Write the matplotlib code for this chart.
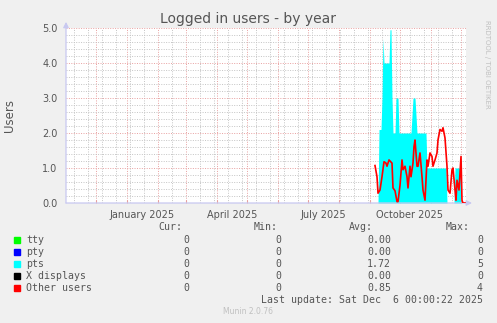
import matplotlib
matplotlib.use("Agg")
import matplotlib.pyplot as plt
import pandas as pd

# pts sessions (cyan area)
pts_dates = ["2025-09-09", "2025-09-10", "2025-09-12", "2025-09-13", "2025-09-14",
             "2025-09-15", "2025-09-20", "2025-09-21", "2025-09-22", "2025-09-23",
             "2025-09-24", "2025-09-26", "2025-09-27", "2025-09-29", "2025-09-30",
             "2025-10-12", "2025-10-14", "2025-10-16", "2025-10-18", "2025-10-27",
             "2025-10-28", "2025-11-16", "2025-11-17", "2025-11-24", "2025-11-25",
             "2025-11-30", "2025-12-01"]
pts_values = [0, 2.1, 2.1, 3.0, 4.7, 4.0, 4.0, 4.95, 4.95, 3.0,
              2.0, 2.0, 3.0, 3.0, 2.0, 2.0, 3.0, 3.0, 2.0, 2.0,
              1.0, 1.0, 0, 0, 1.0, 1.0, 0]

# other users (red line)
other_dates = ["2025-09-06", "2025-09-08", "2025-09-09", "2025-09-11", "2025-09-13",
               "2025-09-15", "2025-09-17", "2025-09-18", "2025-09-20", "2025-09-23",
               "2025-09-24", "2025-09-26", "2025-09-28", "2025-09-29", "2025-10-01",
               "2025-10-03", "2025-10-04", "2025-10-06", "2025-10-08", "2025-10-09",
               "2025-10-11", "2025-10-12", "2025-10-14", "2025-10-15", "2025-10-16",
               "2025-10-18", "2025-10-19", "2025-10-21", "2025-10-23", "2025-10-24",
               "2025-10-26", "2025-10-28", "2025-10-29", "2025-10-31", "2025-11-02",
               "2025-11-03", "2025-11-05", "2025-11-07", "2025-11-08", "2025-11-10",
               "2025-11-12", "2025-11-13", "2025-11-15", "2025-11-17", "2025-11-18",
               "2025-11-20", "2025-11-22", "2025-11-23", "2025-11-25", "2025-11-26",
               "2025-11-27", "2025-11-29", "2025-12-01", "2025-12-02", "2025-12-03",
               "2025-12-05"]
other_values = [1.07, 0.75, 0.28, 0.37, 0.75, 1.18, 1.14, 1.05, 1.23, 1.14,
                0.43, 0.35, 0.04, 0.04, 0.5, 1.23, 0.95, 1.05, 0.75, 0.43,
                1.05, 0.75, 1.14, 1.61, 1.8, 1.05, 1.05, 1.43, 0.75, 0.37,
                0.08, 1.23, 1.05, 1.43, 1.33, 1.05, 1.23, 1.43, 1.8, 2.1,
                2.05, 2.15, 1.86, 1.05, 0.37, 0.28, 0.95, 1.0, 0.37, 0.08,
                0.65, 0.37, 1.33, 0.08, 0.0, 0.0]

legend_names = ["tty", "pty", "pts", "X displays", "Other users"]
legend_colors = ["#00ff00", "#0000ff", "#00ffff", "#000000", "#ff0000"]
cur_vals = ["0", "0", "0", "0", "0"]
min_vals = ["0", "0", "0", "0", "0"]
avg_vals = ["0.00", "0.00", "1.72", "0.00", "0.85"]
max_vals = ["0", "0", "5", "0", "4"]

month_labels = ["January 2025", "April 2025", "July 2025", "October 2025"]
month_label_pos = ["2025-01-16", "2025-04-16", "2025-07-16", "2025-10-11"]

x_start = pd.Timestamp("2024-11-01")
x_end = pd.Timestamp("2025-12-06")

text_color = "#555555"
fig = plt.figure(figsize=(4.97, 3.23), dpi=100, facecolor="#f0f0f0")
ax = fig.add_axes([66 / 497, 1 - 203 / 323, 400 / 497, 175 / 323])
ax.set_facecolor("white")

ax.fill_between(pd.to_datetime(pts_dates), 0, pts_values, color="#00ffff",
                lw=0, zorder=3)
ax.plot(pd.to_datetime(other_dates), other_values, color="#ff0000", lw=1.2,
        zorder=4)

ax.set_xlim(x_start, x_end)
ax.set_ylim(0, 5)

# grid
ax.set_yticks([0, 1, 2, 3, 4, 5])
ax.set_yticks([i * 0.2 for i in range(26)], minor=True)
ax.set_yticklabels(["0.0", "1.0", "2.0", "3.0", "4.0", "5.0"])
month_starts = pd.date_range("2024-12-01", "2025-12-01", freq="MS")
biweeks = pd.date_range("2024-11-09", "2025-12-06", freq="14D")
ax.set_xticks(month_starts)
ax.set_xticks(biweeks, minor=True)
ax.set_xticklabels([])
ax.grid(which="minor", color="#c4c4c4", ls=(0, (1, 1.5)), lw=0.7, zorder=1)
ax.grid(which="major", color="#e8a0a0", ls=(0, (1, 1.5)), lw=0.7, zorder=2)
ax.tick_params(which="both", length=0, labelsize=7, colors=text_color, pad=6)
ax.tick_params(axis="x", which="major", length=2, color="#e8a0a0", direction="in")
for lbl, pos in zip(month_labels, month_label_pos):
    ax.text(pd.Timestamp(pos), -0.2, lbl, ha="center", va="top",
            fontsize=7, color=text_color)

for s in ax.spines.values():
    s.set_visible(False)
axis_col = "#c8c8f0"
ax.annotate("", xy=(1.015, 0), xytext=(0, 0), xycoords="axes fraction",
            arrowprops=dict(arrowstyle="-|>", color=axis_col, lw=0.9,
                            mutation_scale=8, shrinkA=0, shrinkB=0),
            annotation_clip=False)
ax.annotate("", xy=(0, 1.035), xytext=(0, 0), xycoords="axes fraction",
            arrowprops=dict(arrowstyle="-|>", color=axis_col, lw=0.9,
                            mutation_scale=8, shrinkA=0, shrinkB=0),
            annotation_clip=False)

fig.text(248 / 497, 1 - 19 / 323, "Logged in users - by year", ha="center",
         va="center", fontsize=10, color=text_color)
fig.text(10 / 497, 1 - 115 / 323, "Users", rotation=90, ha="center",
         va="center", fontsize=8.5, color=text_color)
fig.text(487 / 497, 1 - 20 / 323, "RRDTOOL / TOBI OETIKER", rotation=-90,
         ha="center", va="top", fontsize=5, color="#c0c0c0")

# legend table
mono = "DejaVu Sans Mono"
fs = 7.1


def fy(y):
    return 1 - y / 323


for hdr, xr in zip(["Cur:", "Min:", "Avg:", "Max:"], [182, 278, 373, 470]):
    fig.text(xr / 497, fy(227.5), hdr, ha="right", va="center",
             family=mono, fontsize=fs, color=text_color)
rows_y = [240, 252, 264, 276, 288]
for i, name in enumerate(legend_names):
    y = rows_y[i]
    fig.patches.append(plt.Rectangle((14 / 497, fy(y + 3)), 6 / 497, 6 / 323,
                                     transform=fig.transFigure,
                                     color=legend_colors[i], figure=fig))
    fig.text(26 / 497, fy(y), name, ha="left", va="center",
             family=mono, fontsize=fs, color=text_color)
    for val, xr in zip([cur_vals[i], min_vals[i], avg_vals[i], max_vals[i]],
                       [189, 281, 391, 483]):
        fig.text(xr / 497, fy(y), val, ha="right", va="center",
                 family=mono, fontsize=fs, color=text_color)

fig.text(483 / 497, fy(300), "Last update: Sat Dec  6 00:00:22 2025",
         ha="right", va="center", family=mono, fontsize=fs, color=text_color)
fig.text(248 / 497, fy(312), "Munin 2.0.76", ha="center", va="center",
         fontsize=5.5, color="#c0c0c0")

fig.savefig("out.png", dpi=100, facecolor=fig.get_facecolor())
